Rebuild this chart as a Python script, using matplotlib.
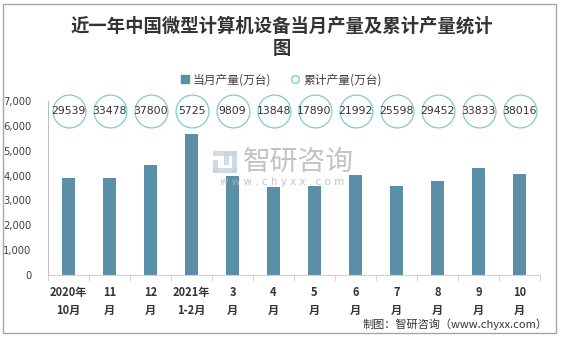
import numpy as np
import matplotlib.pyplot as plt
from matplotlib.patches import Rectangle
from matplotlib.lines import Line2D

plt.rcParams['font.family'] = ['Noto Sans CJK SC', 'DejaVu Sans']

# 月份标签与产量数据（万台）
months = ['2020年\n10月', '11\n月', '12\n月', '2021年\n1-2月', '3\n月', '4\n月',
          '5\n月', '6\n月', '7\n月', '8\n月', '9\n月', '10\n月']
monthly = [3905, 3905, 4415, 5682, 4000, 3527, 3567, 4039, 3567, 3796, 4308, 4079]
cumulative = [29539, 33478, 37800, 5725, 9809, 13848, 17890, 21992, 25598, 29452, 33833, 38016]

bar_color = '#5b8fa8'
ring_color = '#7fcdc8'

W, H = 564, 337
fig = plt.figure(figsize=(W / 100, H / 100), dpi=100)
ax = fig.add_axes([48 / W, 62 / H, 492 / W, 174 / H])

x = np.arange(len(months))
ax.bar(x, monthly, width=0.31, color=bar_color, zorder=2)

# 累计产量用圆圈标注在图表顶部
ring_y = 0.94
trans = ax.get_xaxis_transform()
ax.scatter(x, [ring_y] * len(x), s=560, facecolor='white', edgecolor=ring_color,
           linewidth=0.9, transform=trans, zorder=3, clip_on=False)
for xi, v in zip(x, cumulative):
    ax.text(xi, ring_y, str(v), transform=trans, ha='center', va='center',
            fontsize=7.8, color='#333333', family='DejaVu Sans', zorder=4)

ax.set_xlim(-0.5, len(months) - 0.5)
ax.set_ylim(0, 7000)
ax.set_yticks(range(0, 7001, 1000))
ax.set_yticklabels([f'{v:,}' for v in range(0, 7001, 1000)],
                   fontsize=7.2, color='#404040', family='DejaVu Sans')
ax.set_xticks(x)
ax.set_xticklabels(months, fontsize=8, fontweight='bold', color='#333333',
                   linespacing=1.5)
ax.tick_params(axis='y', length=0, pad=12)
ax.tick_params(axis='x', length=0, pad=8)

# 类别之间的分隔刻度
ax.set_xticks(np.arange(-0.5, len(months)), minor=True)
ax.tick_params(axis='x', which='minor', length=4, color='#cccccc')

for side in ['top', 'right']:
    ax.spines[side].set_visible(False)
ax.spines['left'].set_color('#bfbfbf')
ax.spines['bottom'].set_color('#d0d0d0')

fig.text(0.5, 1 - 37 / H,
         '近一年中国微型计算机设备当月产量及累计产量统计\n图',
         ha='center', va='center', fontsize=13.2, fontweight='bold',
         color='#333333', linespacing=1.25)

handles = [
    Line2D([], [], marker='s', linestyle='none', markersize=5.5,
           markerfacecolor=bar_color, markeredgecolor=bar_color),
    Line2D([], [], marker='o', linestyle='none', markersize=5.5,
           markerfacecolor='white', markeredgecolor=ring_color),
]
fig.legend(handles, ['当月产量(万台)', '累计产量(万台)'], loc='center',
           bbox_to_anchor=(281 / W, 1 - 80 / H), ncol=2, frameon=False,
           fontsize=8.5, handlelength=0.8, handletextpad=0.3,
           columnspacing=1.6, labelcolor='#404040')

# 水印：标志、名称与网址
logo = [(213, 151, 24, 5), (213, 160, 5, 13), (213, 168, 24, 5),
        (224, 151, 5, 14), (232, 151, 5, 22)]
for lx, ly, lw, lh in logo:
    fig.patches.append(Rectangle((lx / W, 1 - (ly + lh) / H), lw / W, lh / H,
                                 transform=fig.transFigure, facecolor='#c5d3e3',
                                 edgecolor='none', alpha=0.8, zorder=5))
fig.text(298 / W, 1 - 162 / H, '智研咨询', ha='center', va='center',
         fontsize=20, color='#b4b4b4', alpha=0.8, zorder=5)
fig.text(282 / W, 1 - 182 / H, 'w w w . c h y x x . c o m', ha='center',
         va='center', fontsize=7.5, color='#b4b4b4', alpha=0.8,
         family='DejaVu Sans', zorder=5)

fig.text(548 / W, 1 - 324 / H, '制图：智研咨询（www.chyxx.com）',
         ha='right', va='center', fontsize=8, color='#333333')

fig.patches.append(Rectangle((3 / W, 4 / H), 553 / W, 329 / H,
                             transform=fig.transFigure, fill=False,
                             edgecolor='#a6a6a6', linewidth=1))

fig.savefig('out.png', dpi=100)
